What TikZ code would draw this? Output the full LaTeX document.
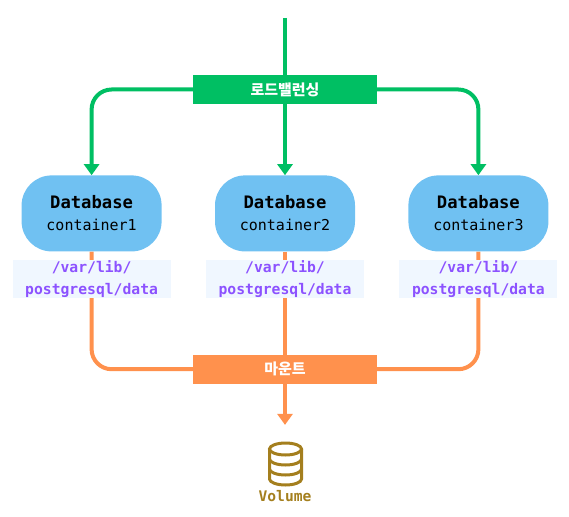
\documentclass[tikz,border=0pt]{standalone}
\usepackage{fontspec}
\setmonofont{DejaVu Sans Mono}
\newfontfamily\krfont{Noto Sans CJK KR}
\usetikzlibrary{arrows.meta,backgrounds,positioning}
\definecolor{lbgreen}{HTML}{00BF63}
\definecolor{dbblue}{HTML}{70C1F2}
\definecolor{mountorange}{HTML}{FF914D}
\definecolor{pathbg}{HTML}{F0F7FF}
\definecolor{pathpurple}{HTML}{8C52FF}
\definecolor{volbrown}{HTML}{A47F1E}

\begin{document}
\begin{tikzpicture}[
    x=1pt, y=-1pt,
    node distance=8.5pt and 53pt,
    db_box/.style={rectangle, fill=dbblue, rounded corners=30pt, inner sep=0pt, minimum width=140pt, minimum height=76pt, align=center, text=black, font=\fontsize{15}{22}\selectfont\ttfamily},
    path_box/.style={rectangle, fill=pathbg, inner sep=0pt, minimum width=158pt, minimum height=38pt, align=center, text=pathpurple, font=\fontsize{14.7}{21.5}\selectfont\ttfamily\bfseries},
    tag_box/.style={rectangle, inner sep=0pt, minimum width=184pt, minimum height=29pt, text=white, font=\fontsize{15}{16}\selectfont\krfont\bfseries},
    green_line/.style={draw=lbgreen, line width=4pt, rounded corners=20pt},
    orange_line/.style={draw=mountorange, line width=4pt, rounded corners=20pt},
    tip/.style={-{Triangle[width=15pt,length=11pt]}}
]
\useasboundingbox (0,0) rectangle (569,516);

% load balancer and databases
\node[tag_box, fill=lbgreen] (lb) at (285,89.5) {로드밸런싱};
\coordinate (top) at (285,18);
\node[db_box, below=71pt of lb] (db2) {{\fontsize{17.2}{22}\selectfont\bfseries Database}\\container2};
\node[db_box, left=of db2] (db1) {{\fontsize{17.2}{22}\selectfont\bfseries Database}\\container1};
\node[db_box, right=of db2] (db3) {{\fontsize{17.2}{22}\selectfont\bfseries Database}\\container3};

% data paths
\node[path_box, below=of db1] (path1) {/var/lib/\\postgresql/data};
\node[path_box, below=of db2] (path2) {/var/lib/\\postgresql/data};
\node[path_box, below=of db3] (path3) {/var/lib/\\postgresql/data};

% mount and volume
\node[tag_box, fill=mountorange, below=56pt of path2] (mount) {마운트};
\coordinate[below=41pt of mount] (volend);
\node[below=106pt of mount, inner sep=0pt, text=volbrown, font=\fontsize{14.6}{16}\selectfont\ttfamily\bfseries] (vol) {Volume};

% Arrows
\begin{scope}[on background layer]
    \draw[green_line] (top) -- (lb);
    \draw[green_line, tip] (lb.west) -| (db1.north);
    \draw[green_line, tip] (lb) -- (db2.north);
    \draw[green_line, tip] (lb.east) -| (db3.north);
    \draw[orange_line] (db1.south) |- (mount.west);
    \draw[orange_line] (db2.south) -- (mount.north);
    \draw[orange_line] (db3.south) |- (mount.east);
\end{scope}
\draw[orange_line, tip] (mount.south) -- (volend);

% volume icon
\begin{scope}[shift={(285.5,449)}, draw=volbrown, line width=3pt]
    \draw (0,0) ellipse [x radius=16, y radius=6];
    \draw (-16,0) -- (-16,30) arc [start angle=180, end angle=360, x radius=16, y radius=-6] -- (16,0);
    \draw (-16,10) arc [start angle=180, end angle=360, x radius=16, y radius=-6];
    \draw (-16,20) arc [start angle=180, end angle=360, x radius=16, y radius=-6];
\end{scope}

\end{tikzpicture}
\end{document}
